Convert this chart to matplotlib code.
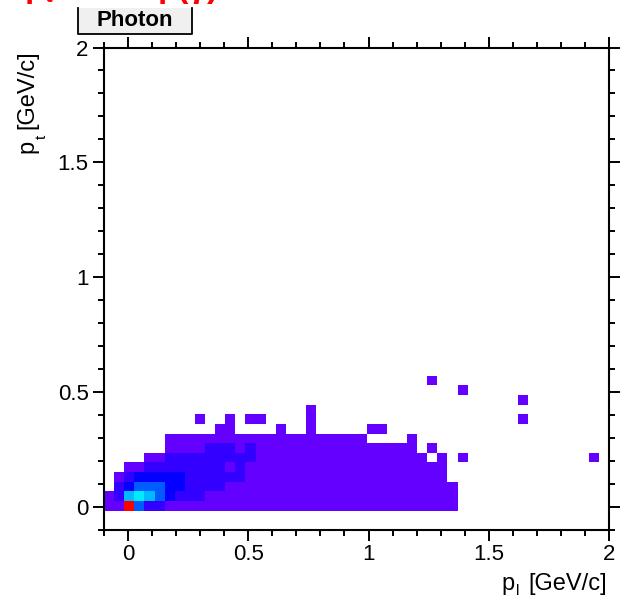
#!/usr/bin/env python3
"""
pt vs pl occupancy for photons, ROOT-style COLZ look.

Renders out.png (623x599).
"""

import colorsys

import numpy as np
import matplotlib
matplotlib.use("Agg")
import matplotlib.pyplot as plt
from matplotlib.colors import ListedColormap, BoundaryNorm
from matplotlib.patches import Rectangle
from matplotlib.ticker import MultipleLocator

# ── Binning: 50 x 50 bins over [-0.1, 2.0] on both axes ──────────────────────
X_MIN, X_MAX, NX = -0.1, 2.0, 50
Y_MIN, Y_MAX, NY = -0.1, 2.0, 50
FIRST_ROW = 2          # y-bin index of the first string in ROWS

# One string per y-bin (bottom -> top), one char per x-bin.
# "." empty, digits = colour level, "R" = the hot bin.
ROWS = [
    "11R422" + "1" * 29 + "." * 15,
    "1256543222" + "1" * 25 + "." * 15,
    ".2344433" + "2222" + "1" * 23 + "." * 15,
    ".12" + "33333" + "222222" + "1" * 20 + "." * 16,
    "..11" + "2" * 8 + "12" + "1" * 20 + "." * 16,
    "....11" + "2" * 9 + "1" * 17 + ".1.1" + "." * 12 + "1.",
    "." * 6 + "1111" + "222" + "12" + "1" * 16 + ".1" + "." * 17,
    "." * 6 + "1" * 20 + "...." + "1" + "." * 19,
    "." * 11 + "11" + "...." + "1" + ".." + "1" + "." * 5 + "11" + "." * 22,
    "." * 9 + "1..1.11....1" + "." * 20 + "1" + "." * 8,
    "." * 20 + "1" + "." * 29,
    "." * 41 + "1" + "." * 8,
    "." * 35 + "1" + "." * 14,
    "." * 32 + "1" + "." * 17,
]

# bin content for each level
LEVEL_COUNTS = {"1": 1, "2": 2, "3": 3, "4": 5, "5": 7, "6": 8, "R": 24}
Z_MAX = 24

X_TITLE = ("p", "l", "[GeV/c]")
Y_TITLE = ("p", "t", "[GeV/c]")
PAVE_TEXT = "Photon"

FONT = "Liberation Sans"
W, H = 623, 599


def root_palette(n=50, max_hue=280.0, min_hue=0.0):
    """Old ROOT 'pretty palette' (SetPalette(1)): violet -> red in HLS."""
    cols = []
    for i in range(n):
        hue = max_hue - (i + 1) * (max_hue - min_hue) / n
        cols.append(colorsys.hls_to_rgb(hue / 360.0, 0.5, 1.0))
    return ListedColormap(cols)


def build_counts():
    z = np.zeros((NY, NX))
    for j, row in enumerate(ROWS):
        for i, ch in enumerate(row):
            if ch != ".":
                z[FIRST_ROW + j, i] = LEVEL_COUNTS[ch]
    return np.ma.masked_equal(z, 0)


def px(x, y):
    """pixel (from top-left) -> figure fraction"""
    return x / W, 1 - y / H


def axis_title(fig, renderer, parts, end, base, vertical, size=17, sub_size=11):
    """ROOT-style 'p_{x} [GeV/c]' title ending at `end`, deep subscript."""
    main, sub, unit = parts
    if vertical:
        t_unit = fig.text(*px(base, end), unit, fontsize=size, rotation=90,
                          rotation_mode="anchor", ha="right", va="baseline")
        start = H - t_unit.get_window_extent(renderer).y0
        t_sub = fig.text(*px(base + 2, start + 6), sub, fontsize=sub_size,
                         rotation=90, rotation_mode="anchor",
                         ha="right", va="top")
        sub_start = H - t_sub.get_window_extent(renderer).y0
        fig.text(*px(base, sub_start + 1), main, fontsize=size, rotation=90,
                 rotation_mode="anchor", ha="right", va="baseline")
    else:
        t_unit = fig.text(*px(end, base), unit, fontsize=size,
                          ha="right", va="baseline")
        start = t_unit.get_window_extent(renderer).x0
        t_sub = fig.text(*px(start - 9, base + 5), sub, fontsize=sub_size,
                         ha="right", va="baseline")
        sub_start = t_sub.get_window_extent(renderer).x0
        fig.text(*px(sub_start - 1, base), main, fontsize=size,
                 ha="right", va="baseline")


def main():
    plt.rcParams.update({
        "font.family": FONT,
        "mathtext.fontset": "custom",
        "mathtext.rm": FONT,
        "mathtext.bf": FONT + ":bold",
        "axes.linewidth": 1.5,
    })

    fig = plt.figure(figsize=(W / 100, H / 100), dpi=100)
    left, right, top, bottom = 104, 609, 47.5, 530
    ax = fig.add_axes([left / W, 1 - bottom / H,
                       (right - left) / W, (bottom - top) / H])

    xedges = np.linspace(X_MIN, X_MAX, NX + 1)
    yedges = np.linspace(Y_MIN, Y_MAX, NY + 1)
    cmap = root_palette()
    norm = BoundaryNorm(np.linspace(0, Z_MAX, cmap.N + 1), cmap.N, clip=True)
    ax.pcolormesh(xedges, yedges, build_counts(), cmap=cmap, norm=norm,
                  shading="flat")

    ax.set_xlim(X_MIN, X_MAX)
    ax.set_ylim(Y_MIN, Y_MAX)

    # ── ROOT-like ticks: outward on all four sides ──
    for axis in (ax.xaxis, ax.yaxis):
        axis.set_major_locator(MultipleLocator(0.5))
        axis.set_minor_locator(MultipleLocator(0.1))
    ax.xaxis.set_major_formatter(lambda v, p: f"{v:g}")
    ax.yaxis.set_major_formatter(lambda v, p: f"{v:g}")
    ax.tick_params(which="both", direction="out", top=True, right=True,
                   width=1.4, labelsize=16)
    ax.tick_params(which="major", length=8)
    ax.tick_params(which="minor", length=4)
    ax.tick_params(axis="x", pad=2)
    ax.tick_params(axis="y", pad=3)

    # axis titles sit at the far end of each axis, as ROOT does
    renderer = fig.canvas.get_renderer()
    axis_title(fig, renderer, X_TITLE, end=607, base=590, vertical=False)
    axis_title(fig, renderer, Y_TITLE, end=50, base=33, vertical=True)

    # red canvas title, mostly clipped by the top edge
    fig.text(*px(24, -3), r"p$_{\mathbf{t}}$ vs", color="red", fontsize=24,
             fontweight="bold", ha="left", va="baseline")
    fig.text(*px(158, -3), "p(γ)", color="red", fontsize=24,
             fontweight="bold", ha="left", va="baseline")

    # "Photon" pave
    bx0, bx1, by0, by1 = 78, 192, 8, 34
    fig.patches.append(Rectangle(px(bx0, by1), (bx1 - bx0) / W,
                                 (by1 - by0) / H, transform=fig.transFigure,
                                 facecolor="#f0f0f0", edgecolor="none"))
    fig.add_artist(plt.Line2D([bx0 / W, bx0 / W, bx1 / W, bx1 / W],
                              [1 - by0 / H, 1 - by1 / H, 1 - by1 / H, 1 - by0 / H],
                              transform=fig.transFigure, color="black", lw=1.3))
    fig.text(*px((bx0 + bx1) / 2, 20), PAVE_TEXT, ha="center",
             va="center", fontsize=16, fontweight="bold")

    fig.savefig("out.png", dpi=100)


if __name__ == "__main__":
    main()
